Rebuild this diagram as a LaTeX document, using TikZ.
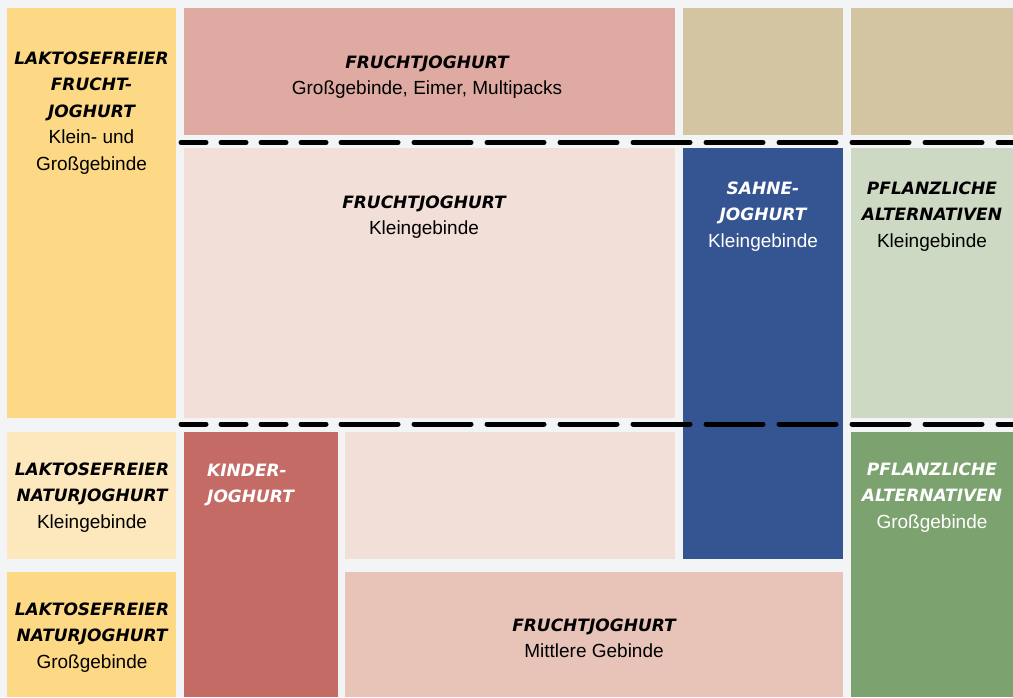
\documentclass[tikz,border=0pt]{standalone}
\usepackage{fontspec}
\setmainfont{Liberation Sans}
\newfontfamily\brushfont{DejaVu Sans}
\usepackage{tikz}

\definecolor{paper}{HTML}{F3F4F6}
\definecolor{sun}{HTML}{FDD985}
\definecolor{cream}{HTML}{FDE8BD}
\definecolor{rose}{HTML}{DFAAA2}
\definecolor{blush}{HTML}{F2DFD8}
\definecolor{berry}{HTML}{C46B66}
\definecolor{salmon}{HTML}{E8C3B8}
\definecolor{sand}{HTML}{D3C4A2}
\definecolor{navy}{HTML}{355592}
\definecolor{sage}{HTML}{CDD9C3}
\definecolor{leaf}{HTML}{7BA26F}

\newcommand{\hd}[1]{{\brushfont\bfseries\itshape\fontsize{17}{26.5}\selectfont #1}}

\begin{document}
\begin{tikzpicture}[x=1pt,y=-1pt,
  blk/.style={inner sep=0pt,anchor=north,align=center,font=\fontsize{19}{26.5}\selectfont},
  cutshort/.style={line width=5pt,line cap=round,black,dash pattern=on 25pt off 15pt},
  cutlong/.style={line width=5pt,line cap=round,black,dash pattern=on 57pt off 16pt}]

\useasboundingbox (0,0) rectangle (1013,697);
\fill[paper] (0,0) rectangle (1013,697);

% tiles
\fill[sun]    (7,8)     rectangle (176,418);
\fill[cream]  (7,432)   rectangle (176,559);
\fill[sun]    (7,572)   rectangle (176,697);
\fill[rose]   (184,8)   rectangle (675,135);
\fill[blush]  (184,148) rectangle (675,418);
\fill[blush]  (345,432) rectangle (675,559);
\fill[berry]  (184,432) rectangle (338,697);
\fill[salmon] (345,572) rectangle (843,697);
\fill[sand]   (683,8)   rectangle (843,135);
\fill[sand]   (851,8)   rectangle (1013,135);
\fill[navy]   (683,148) rectangle (843,559);
\fill[sage]   (851,148) rectangle (1013,418);
\fill[leaf]   (851,432) rectangle (1013,697);

% cut lines
\coordinate (cutAa) at (181,142.5);
\coordinate (cutAb) at (326,142.5);
\coordinate (cutAc) at (1013,142.5);
\coordinate (cutBa) at (181,424);
\coordinate (cutBb) at (326,424);
\coordinate (cutBc) at (1013,424);
\draw[cutshort] (cutAa) -- (cutAb);
\draw[cutlong]  (cutAb) ++(15,0) -- (cutAc);
\draw[cutshort] (cutBa) -- (cutBb);
\draw[cutlong]  (cutBb) ++(15,0) -- (cutBc);

% texts
\node[blk] (lakfrucht) at (91.5,51.6)
  {\hd{LAKTOSEFREIER}\\\hd{FRUCHT-}\\\hd{JOGHURT}\\Klein- und\\Großgebinde};
\node[blk] (fgross) at (427,55.6)
  {\hd{FRUCHTJOGHURT}\\Großgebinde, Eimer, Multipacks};
\node[blk] (fklein) at (424,195.6)
  {\hd{FRUCHTJOGHURT}\\Kleingebinde};
\node[blk,text=white] (sahne) at (763,181.6)
  {\hd{SAHNE-}\\\hd{JOGHURT}\\Kleingebinde};
\node[blk] (pflklein) at (932,181.6)
  {\hd{PFLANZLICHE}\\\hd{ALTERNATIVEN}\\Kleingebinde};
\node[blk] (laknatklein) at (92,462.6)
  {\hd{LAKTOSEFREIER}\\\hd{NATURJOGHURT}\\Kleingebinde};
\node[blk] (laknatgross) at (92,602.6)
  {\hd{LAKTOSEFREIER}\\\hd{NATURJOGHURT}\\Großgebinde};
\node[blk,anchor=north west,align=left,text=white] (kinder) at (207,463.6)
  {\hd{KINDER-}\\\hd{JOGHURT}};
\node[blk,text=white] (pflgross) at (932,462.6)
  {\hd{PFLANZLICHE}\\\hd{ALTERNATIVEN}\\Großgebinde};
\node[blk] (fmittel) at (594,618.6)
  {\hd{FRUCHTJOGHURT}\\Mittlere Gebinde};

\end{tikzpicture}
\end{document}
